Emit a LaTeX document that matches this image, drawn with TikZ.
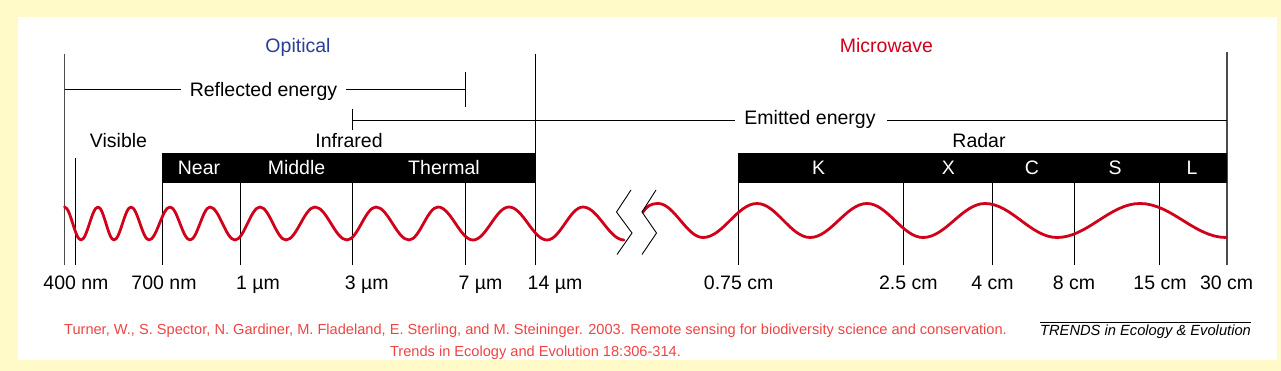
\documentclass[tikz,border=0pt]{standalone}
\usepackage{fontspec}
\setmainfont{Liberation Sans}
\definecolor{bgyellow}{HTML}{FFFAC8}
\definecolor{wavered}{HTML}{D0021B}
\definecolor{optblue}{HTML}{2A3F96}
\definecolor{citered}{HTML}{EE4444}
\begin{document}
\begin{tikzpicture}[x=1pt,y=-1pt,
  lbl/.style={font=\fontsize{19.5}{22}\selectfont, inner sep=0pt, anchor=base},
  barlbl/.style={lbl, text=white},
  cite/.style={font=\fontsize{14.6}{17}\selectfont, text=citered, inner sep=0pt, anchor=base},
  thin/.style={line width=0.9pt, black},
  edge/.style={line width=1.6pt, black!70},
  bar/.style={fill=black, inner sep=0pt, anchor=north west, minimum height=29.5pt},
  wave/.style={line width=2.8pt, wavered, line cap=round, line join=round}]
\useasboundingbox (0,0) rectangle (1281,371);
\fill[bgyellow] (0,0) rectangle (1281,371);
\fill[white] (18,17) rectangle (1277,360);

% headings
\node[lbl, text=optblue] (opt) at (298,52.5) {Opitical};
\node[lbl, text=wavered] (mw) at (886.5,52.5) {Microwave};

% main boundary lines
\coordinate (L0t) at (64.5,54); \coordinate (L0b) at (64.5,265);
\coordinate (L14t) at (535.5,54); \coordinate (L14b) at (535.5,265);
\coordinate (L30t) at (1227,52); \coordinate (L30b) at (1227,265);
\draw[edge] (L0t) -- (L0b);
\draw[edge] (L30t) -- (L30b);
\draw[thin] (L14t) -- (L14b);

% reflected energy
\node[lbl] (refl) at (263.5,96.7) {Reflected energy};
\coordinate (reflL) at (64.5,89.5); \coordinate (reflR) at (465,89.5);
\draw[thin] (reflL) -- (181,89.5);
\draw[thin] (346,89.5) -- (reflR);
\draw[thin] (465,72) -- (465,107);

% emitted energy
\node[lbl] (emit) at (810,125) {Emitted energy};
\coordinate (emitL) at (352,120); \coordinate (emitR) at (1227,120);
\draw[thin] (emitL) -- (735,120);
\draw[thin] (887,120) -- (emitR);
\draw[thin] (352,109) -- (352,130);

% band labels
\node[lbl] (vis) at (118.5,147.3) {Visible};
\node[lbl] (ir) at (349,147.3) {Infrared};
\node[lbl] (radar) at (979,148) {Radar};

% bars
\node[bar, minimum width=373.5pt] (bar1) at (162,153.3) {};
\node[bar, minimum width=489pt] (bar2) at (738,153.3) {};
\node[barlbl] (near) at (199,175) {Near};
\node[barlbl] (mid) at (296.5,175) {Middle};
\node[barlbl] (therm) at (444,175) {Thermal};
\node[barlbl] (K) at (818.6,175) {K};
\node[barlbl] (X) at (948.4,175) {X};
\node[barlbl] (C) at (1032,175) {C};
\node[barlbl] (S) at (1115,175) {S};
\node[barlbl] (Lb) at (1192,175) {L};

% tick lines
\draw[thin] (75.5,158) -- (75.5,265);
\foreach \xx in {162,240,352,465,738,903.3,992.3,1074.3,1159.3}
  \draw[thin] (\xx,182.8) -- (\xx,265);

% waves
\draw[wave] (64.5,207)
  \foreach \xa/\ya/\xb/\yb in {64.5/207/81/240, 81/240/98/207, 98/207/114/240, 114/240/131/207,
    131/207/149/240, 149/240/170/207, 170/207/190/240, 190/240/210/207, 210/207/235/240,
    235/240/260/207, 260/207/286/240, 286/240/315/207, 315/207/347/240, 347/240/376/207,
    376/207/409/240, 409/240/438/207, 438/207/473/240, 473/240/509/207, 509/207/547/240,
    547/240/583/207, 583/207/624/240}
  { .. controls ({\xa+0.364*(\xb-\xa)},\ya) and ({\xb-0.364*(\xb-\xa)},\yb) .. (\xb,\yb) };
\draw[wave] (643,212) .. controls (647,206) and (651,203.5) .. (658,203.5)
  \foreach \xa/\ya/\xb/\yb in {658/203.5/703/237.5, 703/237.5/757/203.5, 757/203.5/810/237.5,
    810/237.5/867/203.5, 867/203.5/923/237.5, 923/237.5/985/203.5, 985/203.5/1057/237.5,
    1057/237.5/1140/203.5, 1140/203.5/1226/237.5}
  { .. controls ({\xa+0.364*(\xb-\xa)},\ya) and ({\xb-0.364*(\xb-\xa)},\yb) .. (\xb,\yb) };

% break marks
\draw[thin] (631,190) -- (616.5,212) -- (632,233) -- (617,254.5);
\draw[thin] (656,190) -- (642,212) -- (656.5,233) -- (642,254.5);

% axis labels
\foreach \nm/\cx/\tx in {a/76/{400 nm}, b/164/{700 nm}, c/258/{1 µm}, d/366.7/{3 µm},
    e/480.6/{7 µm}, f/555/{14 µm}, g/738.6/{0.75 cm}, h/908.4/{2.5 cm}, i/992.4/{4 cm},
    j/1074/{8 cm}, k/1160/{15 cm}, l/1226.6/{30 cm}}
  \node[lbl] (ax\nm) at (\cx,289) {\tx};

% citation
\node[cite] (cite1) at (535.5,334.5) {Turner, W., S. Spector, N. Gardiner, M. Fladeland, E. Sterling, and M. Steininger. 2003. Remote sensing for biodiversity science and conservation.};
\node[cite] (cite2) at (535.5,356) {Trends in Ecology and Evolution 18:306-314.};

% journal mark
\node[font=\fontsize{14.7}{17}\selectfont\itshape, inner sep=0pt, anchor=base] (trends) at (1145.5,335.5) {TRENDS in Ecology \& Evolution};
\draw[line width=0.8pt] (1040,322.5) -- (1251,322.5);
\end{tikzpicture}
\end{document}
